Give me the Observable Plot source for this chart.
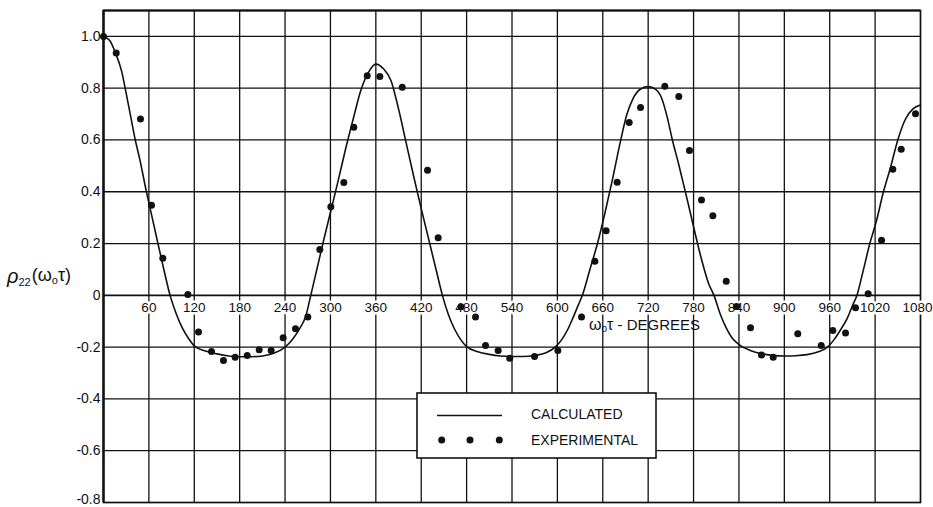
<!DOCTYPE html>
<html><head><meta charset="utf-8">
<script src="https://cdn.jsdelivr.net/npm/d3@7"></script>
<script src="https://cdn.jsdelivr.net/npm/@observablehq/plot@0.6"></script>
<style>
body{margin:0;background:#fff;}
#chart{position:relative;width:933px;height:507px;}
</style></head><body><div id="chart"></div>
<script>
// Calculated curve
const calcX = [0,8,16,24,30,36,42,48,56,64,72,80,88,96,104,112,120,135,150,165,180,195,210,225,240,250,260,267,274,280,290,300,310,320,330,340,350,360,370,380,390,400,410,420,430,440,448,456,464,472,480,495,510,525,540,555,570,585,597,606,614,621,628,633,643,653,663,673,683,692,700,710,720,730,738,745,752,760,770,780,790,800,807,815,823,831,840,855,870,885,900,915,930,945,957,966,975,983,990,996,1003,1013,1022,1031,1040,1050,1060,1070,1080];
const calcY = [1.0,0.985,0.935,0.865,0.78,0.69,0.60,0.525,0.41,0.305,0.20,0.097,0.0,-0.07,-0.125,-0.165,-0.195,-0.215,-0.226,-0.234,-0.237,-0.237,-0.234,-0.224,-0.20,-0.17,-0.125,-0.084,0.0,0.075,0.20,0.32,0.44,0.565,0.68,0.79,0.86,0.893,0.875,0.83,0.72,0.59,0.46,0.335,0.215,0.095,0.0,-0.075,-0.13,-0.17,-0.198,-0.218,-0.228,-0.234,-0.236,-0.236,-0.232,-0.222,-0.20,-0.17,-0.13,-0.084,-0.035,0.0,0.1,0.2,0.32,0.45,0.59,0.7,0.76,0.797,0.806,0.795,0.76,0.69,0.6,0.51,0.39,0.265,0.145,0.045,0.0,-0.07,-0.125,-0.165,-0.19,-0.213,-0.226,-0.232,-0.234,-0.233,-0.229,-0.218,-0.20,-0.17,-0.13,-0.09,-0.04,0.0,0.08,0.2,0.29,0.4,0.49,0.6,0.68,0.72,0.735];
// Experimental points
const expX = [0,16.8,48.9,63.5,78.4,111.5,125.6,142.8,158.6,174,190,205.8,221.6,237.5,253.8,270.1,286,300.5,317.7,330.9,348.6,365.3,394.9,428.3,442.4,472.5,491.8,505,521.7,537,569.8,600.6,631.9,649.5,664.4,679,694.9,709.9,742,760.5,774.6,790.5,805.5,823.2,836.8,855.3,869.8,885.3,917.8,948.8,964.1,980.9,994.1,1010.8,1028.5,1043.4,1054.5,1073.4];
const expY = [1.0,0.936,0.681,0.348,0.143,0.003,-0.142,-0.217,-0.252,-0.239,-0.232,-0.210,-0.213,-0.164,-0.129,-0.084,0.177,0.342,0.436,0.649,0.848,0.845,0.804,0.483,0.222,-0.044,-0.084,-0.194,-0.213,-0.243,-0.236,-0.213,-0.084,0.132,0.249,0.437,0.667,0.725,0.807,0.768,0.559,0.368,0.307,0.054,-0.043,-0.125,-0.230,-0.239,-0.148,-0.194,-0.136,-0.145,-0.048,0.006,0.213,0.487,0.564,0.701];
// Ticks
const xTicks = [60,120,180,240,300,360,420,480,540,600,660,720,780,840,900,960,1020,1080];
const yTicks = [-0.8,-0.6,-0.4,-0.2,0,0.2,0.4,0.6,0.8,1.0];
const yTickLabels = ["-0.8","-0.6","-0.4","-0.2","0","0.2","0.4","0.6","0.8","1.0"];
const legendLabels = ["CALCULATED","EXPERIMENTAL"];

const calc = calcX.map((x,i)=>({x, y: calcY[i]}));
const exp = expX.map((x,i)=>({x, y: expY[i]}));
const yLab = yTicks.map((v,i)=>({v, label: yTickLabels[i]}));
const xGrid = xTicks.filter(d => d < 1080);
const yGrid = yTicks.filter(d => d > -0.8);
const INK = "#111";
const FONT = "'Liberation Sans', Arial, sans-serif";
const xLabStyle = {x: d => d, y: 0, dy: 12, text: d => String(d), fontSize: 13.5, fill: INK, stroke: "white", strokeWidth: 5, paintOrder: "stroke"};
const yLabStyle = {x: 0, y: "v", text: "label", textAnchor: "end", dx: -3, fontSize: 14, fill: INK};

const chart = Plot.plot({
  width: 933, height: 507,
  marginLeft: 103, marginRight: 13, marginTop: 10, marginBottom: 5,
  x: {domain: [0,1080], axis: null},
  y: {domain: [-0.8, 1.1], axis: null},
  style: {fontFamily: FONT, background: "white"},
  marks: [
    Plot.ruleX(xGrid, {stroke: INK, strokeWidth: 1.3}),
    Plot.ruleY(yGrid, {stroke: INK, strokeWidth: d => d === 0 ? 1.8 : 1.3}),
    Plot.frame({stroke: INK, strokeWidth: 1.7}),
    Plot.ruleX([0], {stroke: INK, strokeWidth: 2.4}),
    Plot.ruleY([1.1], {stroke: INK, strokeWidth: 2.2}),
    Plot.text(xTicks, {...xLabStyle, filter: d => d < 1080}),
    Plot.text(xTicks, {...xLabStyle, filter: d => d === 1080, dx: -3}),
    Plot.text(yLab, {...yLabStyle, filter: d => d.v > -0.8}),
    Plot.text(yLab, {...yLabStyle, filter: d => d.v === -0.8, dy: -3}),
    Plot.line(calc, {x: "x", y: "y", curve: "monotone-x", stroke: INK, strokeWidth: 1.6}),
    Plot.dot(exp, {x: "x", y: "y", r: 3.5, fill: INK, stroke: "none"})
  ]
});
document.getElementById("chart").appendChild(chart);

const svg = d3.select(chart);
// Y axis label  ρ22(ω0τ)
const yl = svg.append("text").attr("x", 7).attr("y", 283).attr("fill", INK)
  .attr("text-anchor", "start").style("font-family", FONT);
yl.append("tspan").attr("font-size", 20).attr("font-style", "italic").text("ρ");
yl.append("tspan").attr("font-size", 11).attr("dy", 3).text("22");
yl.append("tspan").attr("font-size", 18).attr("dy", -5).attr("dx", 1).text("(ω");
yl.append("tspan").attr("font-size", 11).attr("dy", 3).text("o");
yl.append("tspan").attr("font-size", 18).attr("dy", -3).text("τ)");

// X axis label  ω0τ - DEGREES
const xl = svg.append("text").attr("x", 589).attr("y", 330).attr("fill", INK)
  .attr("text-anchor", "start").style("font-family", FONT);
xl.append("tspan").attr("font-size", 16).text("ω");
xl.append("tspan").attr("font-size", 10).attr("dy", 2).text("o");
xl.append("tspan").attr("font-size", 16).attr("dy", -2).text("τ");
xl.append("tspan").attr("font-size", 15).text(" - DEGREES");

// Legend
const lg = svg.append("g");
lg.append("rect").attr("x", 417).attr("y", 393).attr("width", 239).attr("height", 65)
  .attr("fill", "white").attr("stroke", INK).attr("stroke-width", 1.6);
lg.append("line").attr("x1", 437).attr("x2", 502).attr("y1", 415.5).attr("y2", 415.5)
  .attr("stroke", INK).attr("stroke-width", 1.4);
[441.7, 470, 499.3].forEach(cx => lg.append("circle").attr("cx", cx).attr("cy", 440).attr("r", 3.5).attr("fill", INK));
legendLabels.forEach((t, i) => lg.append("text").attr("x", 531).attr("y", i === 0 ? 415.5 : 441)
  .attr("text-anchor", "start").attr("dominant-baseline", "middle").attr("font-size", 14).attr("fill", INK)
  .style("font-family", FONT).text(t));
</script></body></html>
